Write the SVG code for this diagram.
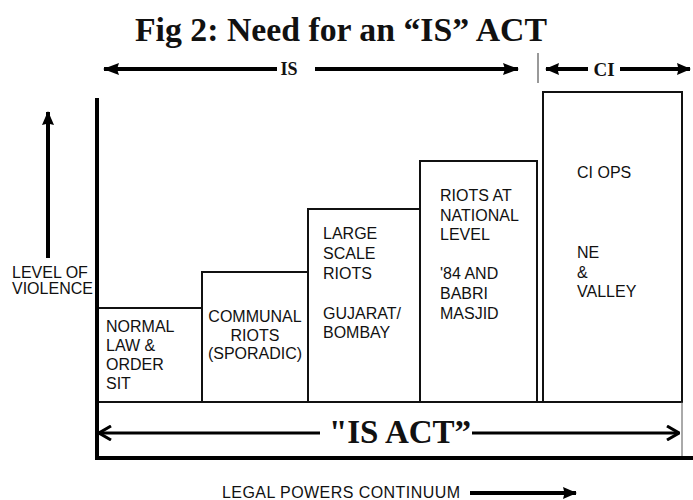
<svg xmlns="http://www.w3.org/2000/svg" width="693" height="500" viewBox="0 0 693 500">
<defs>
<marker id="fh" viewBox="0 0 16 12" refX="15" refY="6" markerWidth="16" markerHeight="12" orient="auto-start-reverse" markerUnits="userSpaceOnUse"><path d="M0,0 L16,6 L0,12 L2,6 Z" fill="#000"/></marker>
<marker id="fs" viewBox="0 0 14 12" refX="13" refY="6" markerWidth="14" markerHeight="12" orient="auto-start-reverse" markerUnits="userSpaceOnUse"><path d="M0,0 L14,6 L0,12 L1.5,6 Z" fill="#000"/></marker>
<marker id="oh" viewBox="0 0 14 16" refX="13" refY="8" markerWidth="14" markerHeight="16" orient="auto-start-reverse" markerUnits="userSpaceOnUse"><path d="M1,1 L13,8 L1,15" fill="none" stroke="#000" stroke-width="3"/></marker>
<style>
.t{font-family:"Liberation Sans",Arial,sans-serif;font-size:16px;fill:#111}
.s{font-family:"Liberation Serif","Times New Roman",serif;font-weight:bold;fill:#111}
.box{fill:#fff;stroke:#111;stroke-width:2}
.ar{stroke:#000;stroke-width:4;fill:none}
</style>
</defs>
<rect width="693" height="500" fill="#fff"/>
<text class="s" x="341" y="41" font-size="33" text-anchor="middle" textLength="412" lengthAdjust="spacingAndGlyphs">Fig 2: Need for an “IS” ACT</text>

<g id="connectors">
<line class="ar" x1="104" y1="69" x2="277" y2="69" marker-start="url(#fh)"/>
<line class="ar" x1="315" y1="69" x2="518" y2="69" marker-end="url(#fh)"/>
<line x1="538" y1="53" x2="538" y2="83" stroke="#999" stroke-width="2"/>
<line class="ar" x1="546" y1="69" x2="588" y2="69" marker-start="url(#fs)"/>
<line class="ar" x1="620" y1="69" x2="690" y2="69" marker-end="url(#fs)"/>
<line class="ar" x1="48" y1="258" x2="48" y2="112" marker-end="url(#fs)"/>
<line x1="99" y1="433" x2="320" y2="433" stroke="#000" stroke-width="3" marker-start="url(#oh)"/>
<line x1="472" y1="433" x2="679" y2="433" stroke="#000" stroke-width="3" marker-end="url(#oh)"/>
<line class="ar" x1="470" y1="493" x2="576" y2="493" marker-end="url(#fs)"/>
</g>
<text class="s" x="289" y="75" font-size="18" text-anchor="middle">IS</text>
<text class="s" x="604" y="76" font-size="19" text-anchor="middle">CI</text>

<g id="box1"><rect class="box" x="97" y="308" width="105" height="94"/>
<text class="t" x="106" y="332">NORMAL</text><text class="t" x="106" y="351">LAW &amp;</text><text class="t" x="106" y="370">ORDER</text><text class="t" x="106" y="389">SIT</text></g>
<g id="box2"><rect class="box" x="202" y="272" width="106" height="130"/>
<text class="t" x="255" y="322" text-anchor="middle">COMMUNAL</text><text class="t" x="255" y="341" text-anchor="middle">RIOTS</text><text class="t" x="255" y="359" text-anchor="middle">(SPORADIC)</text></g>
<g id="box3"><rect class="box" x="308" y="209" width="112" height="193"/>
<text class="t" x="323" y="239">LARGE</text><text class="t" x="323" y="259">SCALE</text><text class="t" x="323" y="279">RIOTS</text><text class="t" x="323" y="319">GUJARAT/</text><text class="t" x="323" y="338">BOMBAY</text></g>
<g id="box4"><rect class="box" x="420" y="161" width="117" height="241"/>
<text class="t" x="440" y="201">RIOTS AT</text><text class="t" x="440" y="221">NATIONAL</text><text class="t" x="440" y="240">LEVEL</text><text class="t" x="440" y="279">'84 AND</text><text class="t" x="440" y="299">BABRI</text><text class="t" x="440" y="319">MASJID</text></g>
<g id="box5"><rect class="box" x="543" y="92" width="139" height="310"/>
<text class="t" x="577" y="178">CI OPS</text><text class="t" x="577" y="258">NE</text><text class="t" x="577" y="278">&amp;</text><text class="t" x="577" y="297">VALLEY</text></g>

<g id="isact">
<line x1="97" y1="402" x2="682" y2="402" stroke="#111" stroke-width="2"/>
<line x1="682" y1="402" x2="682" y2="458" stroke="#555" stroke-width="1"/>
<line x1="95" y1="458" x2="693" y2="458" stroke="#000" stroke-width="4"/>
<line x1="97" y1="98" x2="97" y2="460" stroke="#000" stroke-width="4"/>
<text class="s" x="400" y="443" font-size="33" text-anchor="middle">"IS ACT”</text>
</g>
<g id="ylabel"><text class="t" x="12" y="278">LEVEL OF</text><text class="t" x="12" y="294">VIOLENCE</text></g>
<text class="t" x="222" y="498" font-size="15" textLength="238">LEGAL POWERS CONTINUUM</text>
</svg>
